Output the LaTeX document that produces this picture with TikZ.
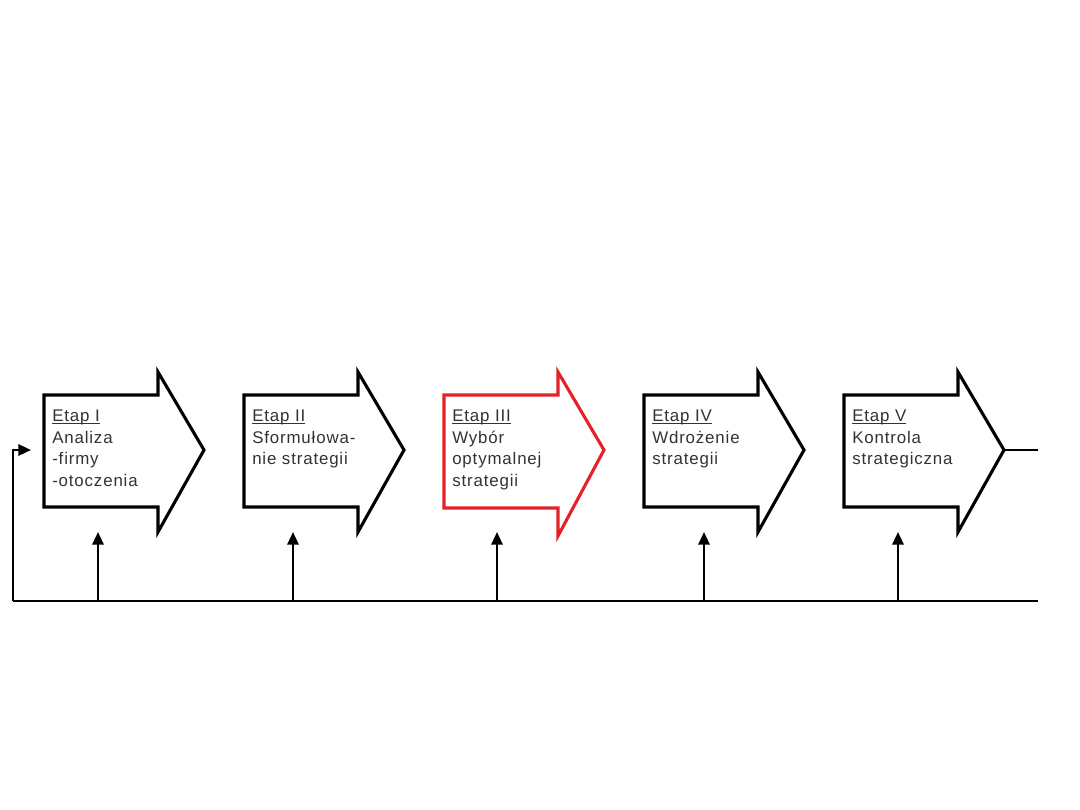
\documentclass[tikz,border=0pt]{standalone}
\usepackage{fontspec}
\setmainfont{Liberation Sans}
\newfontfamily\stagefont[LetterSpace=5]{Liberation Sans}
\usetikzlibrary{arrows.meta}

\definecolor{stagered}{RGB}{230,32,39}

% underline set close to the baseline
\newcommand\stagetitle[1]{\setbox0\hbox{#1}\rlap{\rule[-1.4pt]{\wd0}{0.6pt}}\box0}

\tikzset{
    stage/.style={line width=2.2pt, fill=white, line join=miter},
    stagetext/.style={anchor=north west, inner sep=0pt, align=left,
        font=\stagefont\fontsize{12}{15.3}\selectfont, text=black!80},
    link/.style={line width=1.9pt},
    feed/.style={line width=1.7pt, -{Triangle[width=8pt,length=9pt]}},
}

\begin{document}
\begin{tikzpicture}[x=0.025cm, y=-0.025cm] % one unit = one pixel, y going down
    \useasboundingbox (0,0) rectangle (1080,810);

    % Stage I
    \begin{scope}[shift={(0,0)}]
        \draw[stage] (44,395) -- (158,395) -- (158,372) -- (204,450) -- (158,532) -- (158,507) -- (44,507) -- cycle;
        \coordinate (tip1) at (204,450);
        \coordinate (foot1) at (98,532);
        \coordinate (in1) at (31,450);
        \node[stagetext] (t1) at (52,410) {\stagetitle{Etap I}\\Analiza\\-firmy\\-otoczenia};
    \end{scope}

    % Stage II
    \begin{scope}[shift={(200,0)}]
        \draw[stage] (44,395) -- (158,395) -- (158,372) -- (204,450) -- (158,532) -- (158,507) -- (44,507) -- cycle;
        \coordinate (tip2) at (204,450);
        \coordinate (foot2) at (93,532);
        \node[stagetext] (t2) at (52,410) {\stagetitle{Etap II}\\Sformułowa-\\nie strategii};
    \end{scope}

    % Stage III (highlighted)
    \begin{scope}[shift={(400,0)}]
        \draw[stage, draw=stagered] (44,395) -- (158,395) -- (158,372) -- (204,450) -- (158,536) -- (158,508) -- (44,508) -- cycle;
        \coordinate (tip3) at (204,450);
        \coordinate (foot3) at (97,532);
        \node[stagetext] (t3) at (52,410) {\stagetitle{Etap III}\\Wybór\\optymalnej\\strategii};
    \end{scope}

    % Stage IV
    \begin{scope}[shift={(600,0)}]
        \draw[stage] (44,395) -- (158,395) -- (158,372) -- (204,450) -- (158,532) -- (158,507) -- (44,507) -- cycle;
        \coordinate (tip4) at (204,450);
        \coordinate (foot4) at (104,532);
        \node[stagetext] (t4) at (52,410) {\stagetitle{Etap IV}\\Wdrożenie\\strategii};
    \end{scope}

    % Stage V
    \begin{scope}[shift={(800,0)}]
        \draw[stage] (44,395) -- (158,395) -- (158,372) -- (204,450) -- (158,532) -- (158,507) -- (44,507) -- cycle;
        \coordinate (tip5) at (204,450);
        \coordinate (foot5) at (98,532);
        \node[stagetext] (t5) at (52,410) {\stagetitle{Etap V}\\Kontrola\\strategiczna};
    \end{scope}

    % Feedback line under the stages
    \coordinate (baseL) at (13,601);
    \coordinate (baseR) at (1038,601);
    \coordinate (outR) at (1038,450);
    \draw[link] (tip5) -- (outR);
    \draw[link] (baseL) -- (baseR);
    \draw[feed] (baseL) |- (in1);

    % Arrows up into each stage
    \draw[feed] (foot1 |- baseL) -- (foot1);
    \draw[feed] (foot2 |- baseL) -- (foot2);
    \draw[feed] (foot3 |- baseL) -- (foot3);
    \draw[feed] (foot4 |- baseL) -- (foot4);
    \draw[feed] (foot5 |- baseL) -- (foot5);
\end{tikzpicture}
\end{document}
